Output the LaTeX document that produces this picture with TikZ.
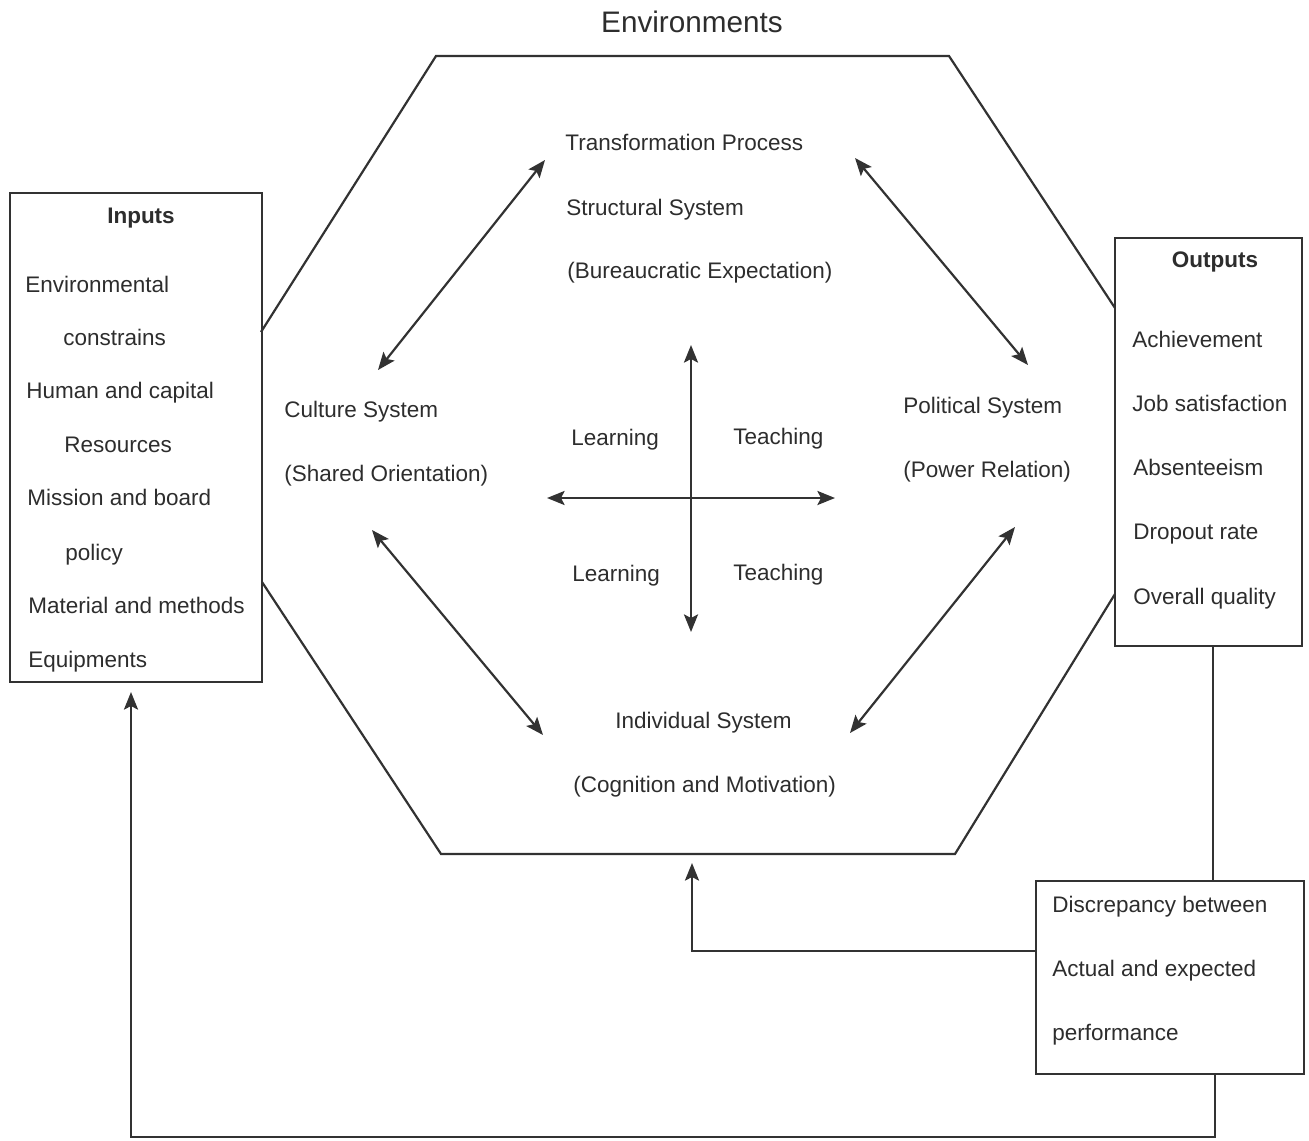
\documentclass[tikz,border=0pt]{standalone}
\usepackage{fontspec}
\setmainfont{Liberation Sans}
\usetikzlibrary{arrows.meta}
\definecolor{ink}{RGB}{50,50,50}
\definecolor{txtc}{RGB}{45,45,45}
\tikzset{
  lw/.style={line width=1.25pt, draw=ink},
  boxnode/.style={lw, rectangle, inner sep=0pt},
  txt/.style={anchor=base west, inner sep=0pt, text=txtc, font=\fontsize{12.8}{15}\selectfont},
  ttl/.style={anchor=base, inner sep=0pt, text=txtc, font=\fontsize{12.8}{15}\selectfont\bfseries},
  tip/.tip={Stealth[length=10pt,width=8pt,inset=2pt]},
  dbl/.style={lw, tip-tip},
  one/.style={lw, -tip},
}
\begin{document}
\begin{tikzpicture}[x=0.02cm,y=-0.02cm]
\useasboundingbox (0,0) rectangle (1309,1140);

% boxes
\node[boxnode, minimum width=5.04cm, minimum height=9.78cm] (inputs) at (136,437.5) {};
\node[boxnode, minimum width=3.74cm, minimum height=8.16cm] (outputs) at (1208.5,442) {};
\node[boxnode, minimum width=5.36cm, minimum height=3.86cm] (disc) at (1170,977.5) {};

% octagon
\coordinate (o1) at (436,56);
\coordinate (o2) at (949,56);
\coordinate (o3) at (1115,308);
\coordinate (o4) at (1115,594);
\coordinate (o5) at (955,854);
\coordinate (o6) at (441,854);
\coordinate (o7) at (262,582);
\coordinate (o8) at (261,332);
\draw[lw, line join=miter] (o8) -- (o1) -- (o2) -- (o3);
\draw[lw, line join=miter] (o4) -- (o5) -- (o6) -- (o7);

% title
\node[anchor=base, inner sep=0pt, text=txtc, font=\fontsize{16.9}{20}\selectfont] (env) at (692,32) {Environments};

% inner texts
\node[txt] (tp) at (565,150) {Transformation Process};
\node[txt] (ss) at (566,215) {Structural System};
\node[txt] (be) at (567,278) {(Bureaucratic Expectation)};
\node[txt] (cs) at (284,417) {Culture System};
\node[txt] (so) at (284,481) {(Shared Orientation)};
\node[txt] (ps) at (903,413) {Political System};
\node[txt] (pr) at (903,477) {(Power Relation)};
\node[txt] (l1) at (571,445) {Learning};
\node[txt] (t1) at (733,444) {Teaching};
\node[txt] (l2) at (572,581) {Learning};
\node[txt] (t2) at (733,580) {Teaching};
\node[txt] (is) at (615,728) {Individual System};
\node[txt] (cm) at (573,792) {(Cognition and Motivation)};

% inputs text
\node[ttl] (inh) at (141,223) {Inputs};
\node[txt] (i1) at (25,292) {Environmental};
\node[txt] (i2) at (63,345) {constrains};
\node[txt] (i3) at (26,398) {Human and capital};
\node[txt] (i4) at (64,452) {Resources};
\node[txt] (i5) at (27,505) {Mission and board};
\node[txt] (i6) at (65,560) {policy};
\node[txt] (i7) at (28,613) {Material and methods};
\node[txt] (i8) at (28,667) {Equipments};

% outputs text
\node[ttl] (outh) at (1215,267) {Outputs};
\node[txt] (u1) at (1132,347) {Achievement};
\node[txt] (u2) at (1132,411) {Job satisfaction};
\node[txt] (u3) at (1133,475) {Absenteeism};
\node[txt] (u4) at (1133,539) {Dropout rate};
\node[txt] (u5) at (1133,604) {Overall quality};

% discrepancy text
\node[txt] (d1) at (1052,912) {Discrepancy between};
\node[txt] (d2) at (1052,976) {Actual and expected};
\node[txt] (d3) at (1052,1040) {performance};

% inner arrows
\coordinate (a1s) at (378,370); \coordinate (a1e) at (545,160);
\coordinate (a2s) at (855,158); \coordinate (a2e) at (1028,365);
\coordinate (a3s) at (372,530); \coordinate (a3e) at (543,735);
\coordinate (a4s) at (1015,527); \coordinate (a4e) at (850,733);
\coordinate (hl) at (547,498); \coordinate (hr) at (835,498);
\coordinate (vt) at (691,345); \coordinate (vb) at (691,632);
\draw[dbl] (a1s) -- (a1e);
\draw[dbl] (a2s) -- (a2e);
\draw[dbl] (a3s) -- (a3e);
\draw[dbl] (a4s) -- (a4e);
\draw[dbl] (hl) -- (hr);
\draw[dbl] (vt) -- (vb);

% feedback connectors
\coordinate (outb) at (1213,646);
\coordinate (disct) at (1213,881);
\draw[lw] (outb) -- (disct);
\coordinate (fb1s) at (1036,951);
\coordinate (octb) at (692,863);
\draw[one] (fb1s) -| (octb);
\coordinate (fb2s) at (1215,1074);
\coordinate (fb2c) at (1215,1137);
\coordinate (inb) at (131,692);
\draw[one] (fb2s) -- (fb2c) -| (inb);
\end{tikzpicture}
\end{document}
